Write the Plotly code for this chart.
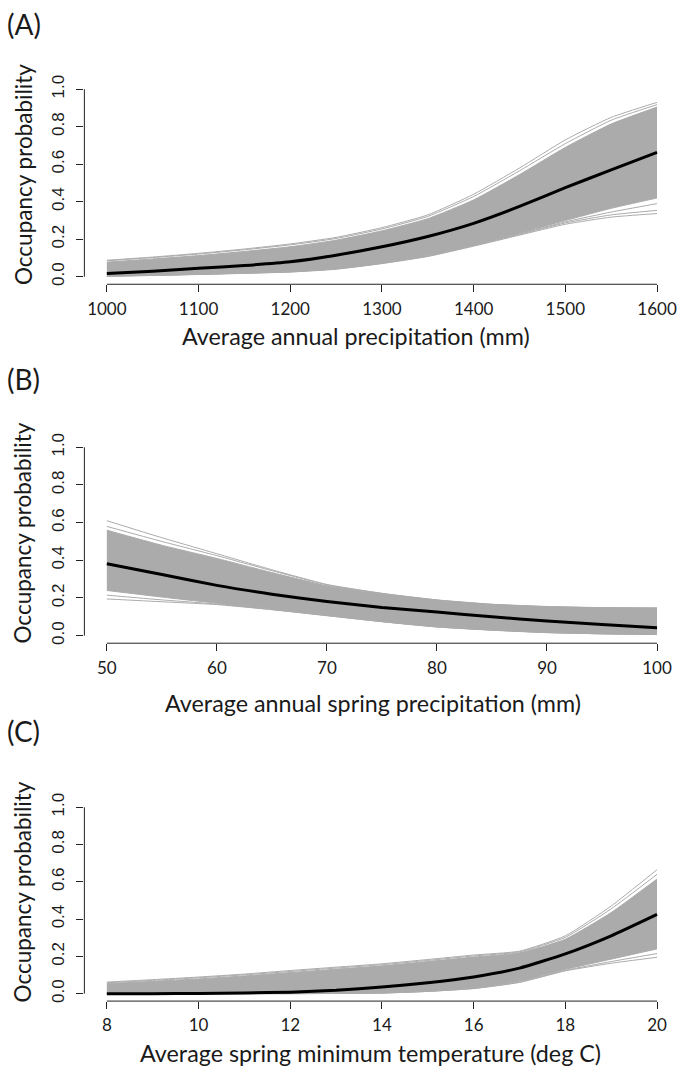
import plotly.graph_objects as go

# ---------------- data ----------------
# Panel A: average annual precipitation (mm)
precip_x = [1000, 1050, 1100, 1150, 1200, 1250, 1300, 1350, 1400, 1450, 1500, 1550, 1600]
precip_mean = [0.018, 0.030, 0.045, 0.060, 0.080, 0.115, 0.160, 0.215, 0.285, 0.375, 0.475, 0.570, 0.663]
precip_top = [0.088, 0.105, 0.125, 0.148, 0.175, 0.210, 0.262, 0.330, 0.440, 0.580, 0.730, 0.850, 0.930]
precip_top2 = [0.085, 0.102, 0.121, 0.144, 0.170, 0.204, 0.255, 0.322, 0.428, 0.565, 0.710, 0.835, 0.918]
precip_core_hi = [0.078, 0.095, 0.113, 0.135, 0.160, 0.195, 0.245, 0.310, 0.410, 0.545, 0.690, 0.815, 0.905]
precip_core_lo = [0.004, 0.008, 0.014, 0.020, 0.028, 0.044, 0.075, 0.115, 0.170, 0.232, 0.300, 0.365, 0.420]
precip_low1 = [0.003, 0.007, 0.012, 0.018, 0.025, 0.040, 0.070, 0.108, 0.163, 0.222, 0.280, 0.318, 0.337]
precip_low2 = [0.003, 0.007, 0.013, 0.019, 0.026, 0.042, 0.072, 0.110, 0.166, 0.226, 0.287, 0.330, 0.354]
precip_low3 = [0.004, 0.008, 0.013, 0.020, 0.027, 0.043, 0.073, 0.112, 0.168, 0.229, 0.293, 0.345, 0.390]

# Panel B: average annual spring precipitation (mm)
spring_x = [50, 55, 60, 65, 70, 75, 80, 85, 90, 95, 100]
spring_mean = [0.382, 0.325, 0.267, 0.220, 0.182, 0.150, 0.126, 0.100, 0.078, 0.060, 0.042]
spring_top = [0.610, 0.520, 0.435, 0.350, 0.272, 0.225, 0.190, 0.167, 0.155, 0.149, 0.147]
spring_top2 = [0.580, 0.500, 0.425, 0.345, 0.270, 0.224, 0.189, 0.166, 0.154, 0.148, 0.146]
spring_core_hi = [0.560, 0.480, 0.410, 0.335, 0.265, 0.222, 0.188, 0.165, 0.153, 0.148, 0.146]
spring_core_lo = [0.240, 0.205, 0.172, 0.140, 0.108, 0.075, 0.047, 0.030, 0.017, 0.010, 0.007]
spring_low1 = [0.195, 0.180, 0.165, 0.138, 0.106, 0.074, 0.046, 0.029, 0.016, 0.010, 0.006]
spring_low2 = [0.215, 0.190, 0.168, 0.139, 0.107, 0.075, 0.047, 0.030, 0.017, 0.010, 0.007]

# Panel C: average spring minimum temperature (deg C)
temp_x = [8, 9, 10, 11, 12, 13, 14, 15, 16, 17, 18, 19, 20]
temp_mean = [0.000, 0.000, 0.001, 0.004, 0.008, 0.018, 0.036, 0.058, 0.089, 0.137, 0.213, 0.310, 0.425]
temp_top = [0.062, 0.075, 0.089, 0.105, 0.124, 0.142, 0.160, 0.183, 0.207, 0.228, 0.310, 0.470, 0.665]
temp_top2 = [0.058, 0.071, 0.085, 0.101, 0.119, 0.137, 0.155, 0.178, 0.202, 0.224, 0.302, 0.455, 0.640]
temp_core_hi = [0.053, 0.066, 0.079, 0.095, 0.113, 0.131, 0.149, 0.172, 0.196, 0.219, 0.292, 0.435, 0.615]
temp_core_lo = [0.000, 0.000, 0.000, 0.000, 0.000, 0.001, 0.004, 0.013, 0.030, 0.066, 0.130, 0.185, 0.240]
temp_low1 = [0.000, 0.000, 0.000, 0.000, 0.000, 0.001, 0.003, 0.012, 0.027, 0.060, 0.122, 0.163, 0.195]
temp_low2 = [0.000, 0.000, 0.000, 0.000, 0.000, 0.001, 0.003, 0.012, 0.028, 0.062, 0.125, 0.172, 0.215]

y_ticks = [0.0, 0.2, 0.4, 0.6, 0.8, 1.0]
y_ticktext = ["0.0", "0.2", "0.4", "0.6", "0.8", "1.0"]
y_title = "Occupancy probability"

panels = [
    dict(label="(A)", xtitle="Average annual precipitation (mm)",
         x=precip_x, mean=precip_mean, hi=precip_core_hi, lo=precip_core_lo,
         extra=[precip_top, precip_top2, precip_low1, precip_low2, precip_low3],
         xticks=[1000, 1100, 1200, 1300, 1400, 1500, 1600]),
    dict(label="(B)", xtitle="Average annual spring precipitation (mm)",
         x=spring_x, mean=spring_mean, hi=spring_core_hi, lo=spring_core_lo,
         extra=[spring_top, spring_top2, spring_low1, spring_low2],
         xticks=[50, 60, 70, 80, 90, 100]),
    dict(label="(C)", xtitle="Average spring minimum temperature (deg C)",
         x=temp_x, mean=temp_mean, hi=temp_core_hi, lo=temp_core_lo,
         extra=[temp_top, temp_top2, temp_low1, temp_low2],
         xticks=[8, 10, 12, 14, 16, 18, 20]),
]

# ---------------- layout geometry (pixels) ----------------
W, H = 677, 1073
LEFT_PX, TICK0_PX, TICK1_PX = 84.5, 107.0, 658.0
plot_px = [(75.4, 279.6), (436.4, 641.6), (799.5, 1002.5)]   # top, bottom
label_y = [17, 375, 730]
xtitle_pos = [(357, 332), (374, 702), (371, 1055)]
ytitle_x = 23

GRAY = "#ababab"
AXC = "#222222"
TXT = "#1a1a1a"

fig = go.Figure()
layout = dict(width=W, height=H, margin=dict(l=0, r=0, t=0, b=0),
              paper_bgcolor="white", plot_bgcolor="white", showlegend=False)
shapes, annotations = [], []

for i, p in enumerate(panels):
    sfx = "" if i == 0 else str(i + 1)
    xa, ya = "x" + sfx, "y" + sfx
    top, bot = plot_px[i]
    x0, x1 = p["xticks"][0], p["xticks"][-1]
    upp = (x1 - x0) / (TICK1_PX - TICK0_PX)
    xr = [x0 - (TICK0_PX - LEFT_PX) * upp, x1 + (W - TICK1_PX) * upp]

    for line in p["extra"]:
        fig.add_trace(go.Scatter(x=p["x"], y=line, mode="lines", xaxis=xa, yaxis=ya,
                                 line=dict(color=GRAY, width=1, shape="spline", smoothing=0.5),
                                 hoverinfo="skip"))
    fig.add_trace(go.Scatter(x=p["x"], y=p["hi"], mode="lines", xaxis=xa, yaxis=ya,
                             line=dict(color=GRAY, width=1, shape="spline", smoothing=0.5),
                             hoverinfo="skip"))
    fig.add_trace(go.Scatter(x=p["x"], y=p["lo"], mode="lines", xaxis=xa, yaxis=ya,
                             fill="tonexty", fillcolor=GRAY,
                             line=dict(color=GRAY, width=1, shape="spline", smoothing=0.5),
                             hoverinfo="skip"))
    fig.add_trace(go.Scatter(x=p["x"], y=p["mean"], mode="lines", xaxis=xa, yaxis=ya,
                             line=dict(color="black", width=3, shape="spline", smoothing=0.5),
                             hoverinfo="skip"))

    layout["xaxis" + sfx] = dict(
        domain=[LEFT_PX / W, 1.0], range=xr, anchor=ya,
        tickvals=p["xticks"], ticks="outside", ticklen=7, tickwidth=1, tickcolor=AXC,
        showline=False, showgrid=False, zeroline=False, ticklabelstandoff=2,
        ticklabeloverflow="allow",
        tickfont=dict(family="Lato", size=17, color=TXT))
    layout["yaxis" + sfx] = dict(
        domain=[1 - bot / H, 1 - top / H], range=[-0.04, 1.04], anchor=xa,
        tickvals=y_ticks, ticktext=y_ticktext, tickangle=-90,
        ticks="outside", ticklen=7, tickwidth=1, tickcolor=AXC,
        showline=False, showgrid=False, zeroline=False, ticklabelstandoff=6,
        tickfont=dict(family="Liberation Sans", size=17, color=TXT))

    shapes.append(dict(type="line", xref=xa, yref=ya + " domain", x0=x0, x1=x1, y0=0, y1=0,
                       line=dict(color=AXC, width=1)))
    shapes.append(dict(type="line", xref=xa + " domain", yref=ya, x0=0, x1=0, y0=0, y1=1,
                       line=dict(color=AXC, width=1)))

    annotations.append(dict(text=p["label"], xref="paper", yref="paper",
                            x=5 / W, y=1 - label_y[i] / H, xanchor="left", yanchor="middle",
                            showarrow=False, font=dict(family="Lato", size=28, color=TXT)))
    annotations.append(dict(text=p["xtitle"], xref="paper", yref="paper",
                            x=xtitle_pos[i][0] / W, y=1 - xtitle_pos[i][1] / H,
                            xanchor="center", yanchor="middle", showarrow=False,
                            font=dict(family="Lato", size=23.3, color=TXT)))
    annotations.append(dict(text=y_title, xref="paper", yref="paper", textangle=-90,
                            x=ytitle_x / W, y=1 - (top + bot) / 2 / H + 9 / H,
                            xanchor="center", yanchor="middle", showarrow=False,
                            font=dict(family="Lato", size=22.5, color=TXT)))

layout["shapes"] = shapes
layout["annotations"] = annotations
fig.update_layout(**layout)
fig.write_html("out.html", config={"displayModeBar": False},
               post_script="document.body.style.margin='0px';document.body.style.padding='0px';")
